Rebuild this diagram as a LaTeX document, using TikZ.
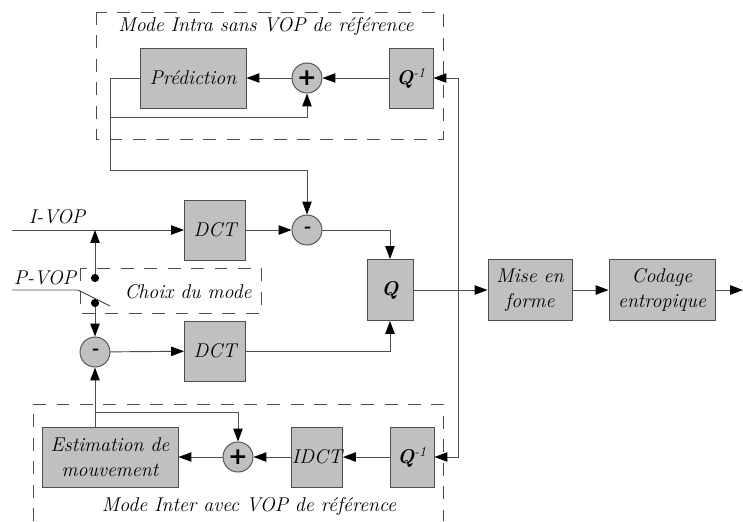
\documentclass[tikz,border=0pt]{standalone}
\usepackage{fontspec}
\usepackage{tikz}
\usetikzlibrary{arrows.meta,positioning,calc}
\newfontfamily\signfont{DejaVu Sans}
\definecolor{boxgray}{HTML}{C0C0C0}
\definecolor{linegray}{HTML}{4D4D4D}

\begin{document}
\begin{tikzpicture}[
    x=0.03cm, y=-0.03cm,
    font=\fontsize{17}{21}\selectfont\itshape,
    block/.style={draw=linegray, fill=boxgray, line width=0.8pt, inner sep=0pt, align=center},
    sum/.style={circle, draw=linegray, fill=boxgray, line width=0.8pt, inner sep=0pt, minimum size=0.9cm},
    wire/.style={draw=linegray, line width=0.8pt},
    arrow/.style={wire, -{Triangle[length=11pt, width=8pt, color=black]}},
    frame/.style={draw=linegray, line width=0.8pt, dash pattern=on 11pt off 9pt},
    dot/.style={circle, fill=black, inner sep=0pt, minimum size=7pt}
]
\useasboundingbox (0,0) rectangle (743,521);

\draw[frame] (96,12) rectangle (443,139);
\node (intra) at (266,27) {Mode Intra sans VOP de référence};
\draw[frame] (33,521) -- (33,404) -- (443,404) -- (443,521);
\node (inter) at (249,507) {Mode Inter avec VOP de référence};
\draw[frame] (80,268) rectangle (261,313);
\node (choix) at (188,292) {Choix du mode};

\node[block, minimum width=3.18cm, minimum height=1.8cm] (pred) at (193,78) {Prédiction};
\node[sum] (plus1) at (307,78) {\signfont\fontsize{20}{20}\selectfont\upshape\bfseries +};
\node[block, minimum width=1.32cm, minimum height=1.8cm] (qinv1) at (411,78) {{\bfseries Q}\textsuperscript{-1}};

\node[block, minimum width=1.83cm, minimum height=1.8cm] (dct1) at (215,230) {DCT};
\node[sum] (minus1) at (307,230) {\bfseries -};
\node[block, minimum width=1.38cm, minimum height=1.83cm] (q) at (390,290) {\bfseries Q};
\node[block, minimum width=2.52cm, minimum height=1.83cm] (mise) at (530,290) {Mise en\\forme};
\node[block, minimum width=3.18cm, minimum height=1.83cm] (codage) at (662,290) {Codage\\entropique};
\node[block, minimum width=1.83cm, minimum height=1.8cm] (dct2) at (215,351) {DCT};
\node[sum] (minus2) at (95,352) {\bfseries -};

\node[block, minimum width=4.08cm, minimum height=1.8cm] (est) at (110,457) {Estimation de\\mouvement};
\node[sum] (plus2) at (238,457) {\signfont\fontsize{20}{20}\selectfont\upshape\bfseries +};
\node[block, minimum width=1.53cm, minimum height=1.8cm] (idct) at (317,457) {IDCT};
\node[block, minimum width=1.32cm, minimum height=1.8cm] (qinv2) at (412,457) {{\bfseries Q}\textsuperscript{-1}};

\coordinate (ivop) at (12,230);
\coordinate (pvop) at (12,290);
\coordinate (pknee) at (78,290);
\coordinate (ptip) at (110,306);
\node[dot] (swI) at (95,278) {};
\node[dot] (swP) at (95,303) {};
\coordinate (tapA) at (110,117);
\coordinate (tapB) at (110,170);
\coordinate (tapC) at (95,412);
\coordinate (fb) at (458,290);
\coordinate (out) at (743,290);

\node (ilabel) at (57,217) {I-VOP};
\node (plabel) at (45,278) {P-VOP};

\draw[arrow] (ivop) -- (dct1);
\draw[arrow] (dct1) -- (minus1);
\draw[arrow] (minus1.east) -| (q.north);
\draw[arrow] (dct2.east) -| (q.south);
\draw[arrow] (q) -- (mise);
\draw[arrow] (mise) -- (codage);
\draw[arrow] (codage) -- (out);

\draw[arrow] (qinv1) -- (plus1);
\draw[arrow] (plus1) -- (pred);
\draw[arrow] (pred.west) -| (tapA) -| (plus1.south);
\draw[arrow] (tapA) -- (tapB) -| (minus1.north);

\draw[arrow] (fb) |- (qinv1.east);
\draw[arrow] (fb) |- (qinv2.east);
\draw[arrow] (qinv2) -- (idct);
\draw[arrow] (idct) -- (plus2);
\draw[arrow] (plus2) -- (est);

\draw[arrow] (est.north -| minus2) -- (minus2.south);
\draw[arrow] (tapC) -| (plus2.north);
\draw[arrow] (minus2) -- (dct2);

\draw[wire] (pvop) -- (pknee) -- (ptip);
\draw[arrow] (swI) -- (swI |- dct1);
\draw[arrow] (swP) -- (minus2.north);
\end{tikzpicture}
\end{document}
